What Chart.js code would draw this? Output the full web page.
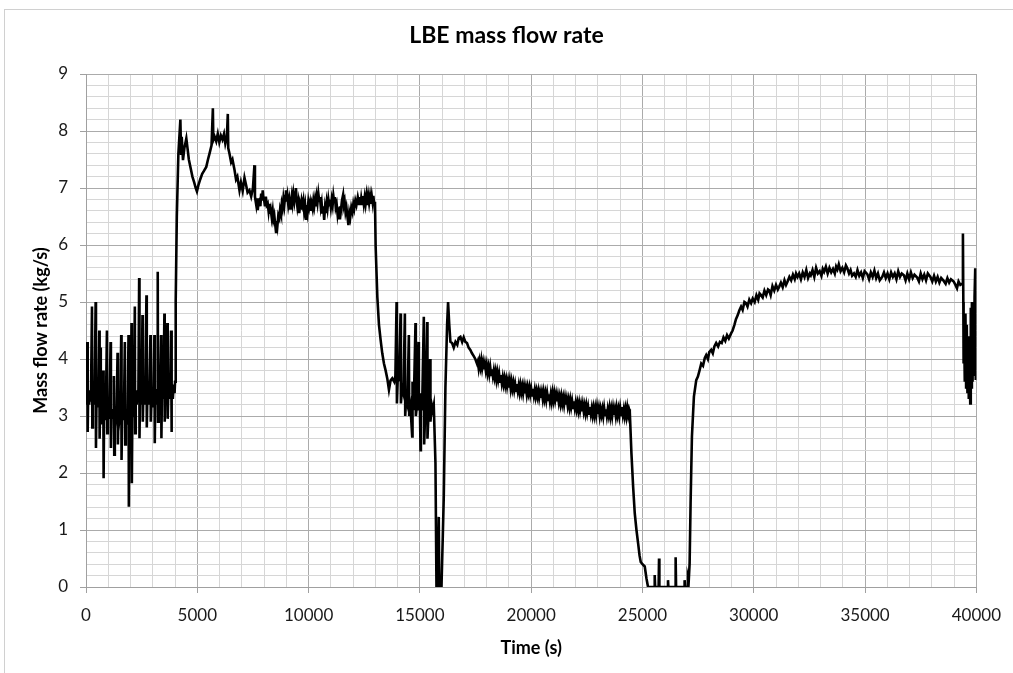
<!DOCTYPE html>
<html>
<head>
<meta charset="utf-8">
<script src="https://cdn.jsdelivr.net/npm/chart.js@4/dist/chart.umd.min.js"></script>
<style>
  html, body { margin: 0; padding: 0; background: #ffffff; }
  #wrap { position: relative; width: 1013px; height: 673px; overflow: hidden; background: #fff; }
  #frame { position: absolute; left: 4px; top: 9px; width: 1020px; height: 700px;
           border-left: 1px solid #d0d0d0; border-top: 1px solid #d0d0d0; pointer-events: none; }
  canvas { position: absolute; left: 0; top: 0; }
</style>
</head>
<body>
<div id="wrap">
  <canvas id="c" width="1013" height="673"></canvas>
  <div id="frame"></div>
</div>
<script>
// ---- Data: [time (s), LBE mass flow rate (kg/s)] ----
const startupOscillation = [
[0,3.4],[30,3.2],[60,4.3],[75,2.72],[100,3.45],[140,3.2],[180,3.45],[220,3.25],[269,4.92],[284,2.8],
[310,3.45],[350,3.2],[390,3.4],[433,5.0],[448,2.44],[475,3.4],[515,3.15],[555,3.4],[597,4.5],[612,2.6],
[635,3.3],[657,4.2],[672,2.85],[700,3.2],[740,2.95],[776,3.8],[791,1.91],[815,3.15],[855,2.95],[895,3.15],
[940,4.5],[955,2.7],[980,3.1],[1020,2.95],[1060,3.15],[1104,4.3],[1119,2.44],[1145,3.1],[1185,2.95],[1220,3.1],
[1254,3.7],[1269,2.32],[1295,3.1],[1335,2.95],[1375,3.1],[1418,4.11],[1433,2.5],[1460,3.1],[1500,2.95],[1540,3.1],
[1582,4.42],[1597,2.23],[1625,3.1],[1665,2.95],[1705,3.1],[1746,4.3],[1761,2.5],[1790,3.05],[1830,2.85],[1870,3.0],
[1910,4.42],[1925,1.41],[1950,3.0],[1985,2.8],[2015,3.0],[2045,4.63],[2060,1.82],[2085,3.2],[2120,3.0],[2155,3.3],
[2194,4.92],[2209,2.7],[2235,3.45],[2275,3.2],[2315,3.45],[2350,3.25],[2388,5.42],[2403,2.61],[2430,3.45],[2465,3.2],
[2500,3.4],[2537,4.77],[2552,2.9],[2580,3.45],[2620,3.2],[2660,3.4],[2716,5.12],[2731,2.8],[2760,3.4],[2800,3.2],
[2840,3.45],[2895,4.42],[2910,2.9],[2940,3.3],[2980,3.15],[3020,3.35],[3074,4.42],[3089,2.52],[3115,3.4],[3150,3.2],
[3190,3.45],[3223,5.53],[3238,2.9],[3265,3.55],[3300,3.3],[3335,3.55],[3373,4.42],[3388,2.61],[3415,3.5],[3450,3.3],
[3485,3.55],[3522,4.8],[3537,2.9],[3565,3.5],[3600,3.3],[3630,3.55],[3656,4.63],[3671,2.95],[3700,3.5],[3740,3.3],
[3780,3.55],[3820,4.5],[3835,2.72],[3860,3.5],[3900,3.3],[3940,3.55],[3980,3.4],[4000,3.6]
];
const highFlowPhase = [
[4030,5.0],[4080,6.5],[4150,7.6],[4210,8.0],[4240,8.2],[4270,7.6],[4300,7.9],[4357,7.49],[4420,7.7],[4507,7.87],
[4560,7.7],[4620,7.5],[4700,7.35],[4780,7.2],[4860,7.1],[4930,7.0],[4984,6.94],[5050,7.05],[5130,7.15],[5220,7.25],
[5300,7.3],[5403,7.37],[5480,7.5],[5560,7.62],[5640,7.75],[5700,8.4],[5720,7.84],[5780,7.9],[5850,7.82],[5920,7.95],
[5990,7.8],[6060,7.92],[6130,7.85],[6200,7.95],[6260,7.78],[6330,7.9],[6371,8.3],[6390,7.7],[6447,7.6],[6520,7.45],
[6580,7.5],[6671,7.32],[6740,7.15],[6800,7.2],[6895,6.96],[6960,7.1],[7040,6.95],[7120,7.18],[7194,7.05],[7260,6.92],
[7343,6.96],[7420,6.85],[7500,7.0],[7567,7.4],[7590,6.85]
];
const highFlowPlateau = [
[7650,6.7],[7685,6.82],[7716,6.61],[7760,6.78],[7800,6.8],[7835,6.68],[7870,6.9],[7905,6.78],[7940,6.96],[7970,6.82],
[8000,6.8],[8040,6.68],[8080,6.85],[8120,6.7],[8163,6.73],[8200,6.6],[8230,6.72],[8265,6.55],[8300,6.62],[8345,6.48],
[8387,6.6],[8420,6.45],[8460,6.52],[8500,6.36],[8536,6.23],[8570,6.42],[8600,6.34],[8640,6.52],[8685,6.47],[8720,6.62],
[8760,6.55],[8795,6.72],[8830,6.65],[8870,6.82],[8909,6.7],[8945,6.86],[8984,6.96],[9015,6.76],[9050,6.86],[9090,6.7],
[9130,6.8],[9170,6.64],[9208,6.74],[9245,6.86],[9280,6.74],[9320,6.9],[9360,6.78],[9395,6.92],[9432,7.0],[9465,6.78],
[9500,6.66],[9540,6.76],[9581,6.56],[9615,6.7],[9650,6.62],[9690,6.78],[9730,6.7],[9765,6.78],[9800,6.6],[9840,6.7],
[9880,6.44],[9915,6.68],[9950,6.58],[9990,6.76],[10029,6.66],[10065,6.74],[10100,6.6],[10140,6.72],[10180,6.64],[10215,6.78],
[10253,6.68],[10290,6.8],[10330,6.68],[10365,6.84],[10400,6.74],[10440,6.9],[10476,6.78],[10510,6.84],[10550,6.66],[10585,6.74],
[10620,6.55],[10660,6.68],[10700,6.44],[10740,6.66],[10780,6.56],[10815,6.74],[10850,6.64],[10890,6.8],[10924,6.7],[10960,6.8],
[11000,6.66],[11040,6.8],[11080,6.7],[11115,6.86],[11148,6.76],[11185,6.84],[11220,6.66],[11260,6.72],[11300,6.55],[11335,6.66],
[11372,6.47],[11410,6.68],[11450,6.6],[11500,6.78],[11551,6.88],[11585,6.7],[11620,6.76],[11660,6.58],[11700,6.66],[11745,6.5],
[11790,6.35],[11830,6.56],[11870,6.48],[11920,6.66],[11969,6.58],[12010,6.72],[12050,6.64],[12100,6.78],[12150,6.7],[12210,6.84],
[12267,6.72],[12300,6.84],[12330,6.7],[12365,6.82],[12400,6.72],[12440,6.86],[12480,6.72],[12520,6.84],[12560,6.72],[12600,6.86],
[12640,6.7],[12680,6.86],[12720,6.74],[12760,6.86],[12800,6.72],[12840,6.86],[12880,6.74],[12910,6.86],[12940,6.74],[12983,6.76]
];
const firstDropPhase = [
[13013,5.97],[13088,5.09],[13162,4.6],[13237,4.33],[13310,4.1],[13386,3.92],[13460,3.8],[13535,3.66],[13610,3.46],[13680,3.62],
[13760,3.66],[13850,3.6],[13900,3.7],[13953,5.0],[13968,3.22],[14000,3.6],[14060,3.65],[14133,4.8],[14148,3.22],[14200,3.5],
[14260,3.4],[14326,4.8],[14341,3.0],[14380,3.3],[14440,3.2],[14505,4.42],[14520,3.0],[14580,3.15],[14654,2.64],[14670,3.6],
[14720,3.1],[14803,4.63],[14818,3.0],[14870,3.2],[14940,4.3],[14955,3.1],[15000,3.2],[15029,2.4],[15045,3.4],[15100,3.1],
[15177,4.74],[15192,2.5],[15250,3.2],[15326,4.65],[15341,2.6],[15400,3.15],[15460,4.0],[15475,2.9],[15530,3.2],[15580,3.1],
[15624,3.19],[15700,2.17],[15745,0],[15800,0],[15848,1.23],[15870,0],[15970,0],[16030,0.9],[16073,1.58],[16148,3.51],
[16223,4.6],[16267,5.0],[16320,4.6],[16372,4.3],[16447,4.28],[16521,4.2],[16600,4.3],[16680,4.25],[16745,4.37],[16820,4.39],
[16900,4.3],[16969,4.38],[17043,4.3],[17118,4.28],[17190,4.2],[17267,4.16],[17340,4.1],[17420,4.05],[17490,4.0],[17565,3.92]
];
const slowDecayPhase = [
[17600,3.96],[17640,3.84],[17680,3.96],[17720,3.86],[17760,3.98],[17800,3.84],[17840,3.94],[17880,3.82],[17920,3.92],[17960,3.8],
[18000,3.9],[18040,3.76],[18080,3.86],[18120,3.74],[18160,3.86],[18200,3.72],[18240,3.82],[18280,3.7],[18320,3.8],[18360,3.68],
[18400,3.78],[18440,3.64],[18480,3.76],[18520,3.64],[18560,3.74],[18600,3.6],[18640,3.72],[18680,3.58],[18720,3.68],[18760,3.56],
[18800,3.66],[18840,3.54],[18880,3.64],[18920,3.52],[18960,3.62],[19000,3.5],[19040,3.62],[19080,3.48],[19120,3.6],[19160,3.48],
[19200,3.58],[19240,3.46],[19280,3.56],[19320,3.44],[19360,3.56],[19400,3.44],[19440,3.54],[19480,3.42],[19520,3.54],[19560,3.42],
[19600,3.52],[19640,3.4],[19680,3.52],[19720,3.4],[19760,3.5],[19800,3.38],[19840,3.5],[19880,3.4],[19920,3.5],[19960,3.38],
[20000,3.48],[20040,3.36],[20080,3.48],[20120,3.36],[20160,3.46],[20200,3.34],[20240,3.44],[20280,3.34],[20320,3.44],[20360,3.32],
[20400,3.42],[20440,3.32],[20480,3.42],[20520,3.3],[20560,3.42],[20600,3.3],[20640,3.4],[20680,3.28],[20720,3.4],[20760,3.28],
[20800,3.38],[20840,3.26],[20880,3.38],[20920,3.26],[20960,3.4],[21000,3.28],[21040,3.4],[21080,3.28],[21120,3.38],[21160,3.26],
[21200,3.36],[21240,3.24],[21280,3.34],[21320,3.22],[21360,3.34],[21400,3.22],[21440,3.32],[21480,3.2],[21520,3.32],[21560,3.2],
[21600,3.3],[21640,3.18],[21680,3.28],[21720,3.16],[21760,3.28],[21800,3.16],[21840,3.26],[21880,3.14],[21920,3.26],[21960,3.14],
[22000,3.24],[22040,3.12],[22080,3.22],[22120,3.1],[22160,3.22],[22200,3.1],[22240,3.2],[22280,3.08],[22320,3.2],[22360,3.08],
[22400,3.18],[22440,3.06],[22480,3.18],[22520,3.06],[22560,3.16],[22600,3.04],[22640,3.16],[22680,3.04],[22720,3.14],[22760,3.02],
[22800,3.14],[22840,3.02],[22880,3.14],[22920,3.02],[22960,3.16],[23000,3.04],[23040,3.14],[23080,3.0],[23120,3.12],[23160,3.02],
[23200,3.12],[23240,3.0],[23280,3.14],[23320,3.02],[23360,3.12],[23400,3.0],[23440,3.12],[23480,3.02],[23520,3.14],[23560,3.0],
[23600,3.12],[23640,3.0],[23680,3.14],[23720,3.02],[23760,3.12],[23800,3.0],[23840,3.14],[23880,3.02],[23920,3.12],[23960,3.0],
[24000,3.14],[24040,3.02],[24080,3.16],[24120,3.02],[24160,3.12],[24200,3.0],[24240,3.12],[24280,3.0],[24320,3.14],[24360,3.02],
[24400,3.12],[24430,3.08]
];
const stoppagePhase = [
[24505,2.34],[24580,1.76],[24654,1.29],[24730,1.0],[24803,0.77],[24870,0.55],[24922,0.44],[25000,0.4],[25102,0.36],[25180,0.15],
[25250,0],[25530,0],[25550,0.21],[25570,0],[25725,0],[25744,0.5],[25760,0],[26130,0],[26147,0.12],[26165,0],
[26470,0],[26490,0.52],[26510,0],[26870,0],[26893,0.12],[26915,0],[27020,0],[27043,0.18],[27080,0.12],[27118,0.41]
];
const recoveryPhase = [
[27162,1.47],[27222,2.64],[27311,3.34],[27416,3.63],[27490,3.69],[27565,3.8],[27640,3.92],[27720,3.88],[27800,4.02],[27863,4.07],
[27940,4.0],[28000,4.12],[28087,4.16],[28160,4.1],[28230,4.22],[28311,4.28],[28400,4.22],[28480,4.3],[28560,4.28],[28640,4.38],
[28720,4.32],[28800,4.42],[28880,4.36],[28982,4.45],[29050,4.5],[29131,4.6],[29200,4.7],[29281,4.77],[29350,4.85],[29430,4.92],
[29500,4.86],[29580,5.0],[29653,4.98],[29720,4.92],[29800,5.04],[29880,4.98],[29952,5.06],[30040,5.0],[30120,5.12],[30200,5.04],
[30260,5.15],[30325,5.12],[30400,5.08],[30480,5.2],[30560,5.12],[30640,5.22],[30698,5.2],[30760,5.12],[30840,5.28],[30920,5.2],
[31000,5.3],[31080,5.22],[31145,5.27],[31220,5.34],[31300,5.26],[31380,5.38],[31450,5.3],[31519,5.36],[31600,5.44],[31680,5.38],
[31760,5.48],[31840,5.4],[31900,5.5],[31966,5.44],[32040,5.5],[32120,5.4],[32200,5.52],[32280,5.44],[32360,5.56],[32440,5.42],
[32520,5.5],[32563,5.47],[32640,5.56],[32720,5.44],[32800,5.6],[32880,5.5],[32960,5.54],[33040,5.46],[33100,5.58],[33160,5.53],
[33240,5.62],[33320,5.5],[33400,5.6],[33480,5.52],[33560,5.58],[33640,5.5],[33700,5.62],[33757,5.57],[33820,5.66],[33900,5.54],
[33980,5.6],[34060,5.52],[34140,5.64],[34204,5.59],[34280,5.5],[34350,5.56],[34420,5.46],[34503,5.5],[34580,5.44],[34660,5.56],
[34740,5.46],[34820,5.52],[34900,5.42],[34980,5.54],[35100,5.49],[35180,5.4],[35260,5.52],[35340,5.44],[35420,5.55],[35500,5.42],
[35580,5.5],[35660,5.38],[35771,5.44],[35850,5.52],[35930,5.42],[36010,5.5],[36090,5.4],[36170,5.52],[36250,5.44],[36330,5.5],
[36410,5.4],[36490,5.54],[36570,5.44],[36650,5.5],[36743,5.47],[36820,5.38],[36900,5.5],[36980,5.4],[37060,5.52],[37140,5.42],
[37220,5.48],[37340,5.43],[37420,5.36],[37500,5.5],[37580,5.4],[37660,5.48],[37740,5.38],[37820,5.5],[37936,5.44],[38020,5.36],
[38100,5.46],[38180,5.36],[38260,5.44],[38340,5.34],[38420,5.42],[38534,5.37],[38620,5.32],[38700,5.42],[38780,5.34],[38860,5.4],
[38981,5.36],[39060,5.3],[39130,5.24],[39200,5.36],[39280,5.3],[39360,5.32]
];
const finalTransient = [
[39397,6.2],[39415,5.0],[39427,3.92],[39450,4.6],[39480,3.6],[39510,4.8],[39540,3.5],[39570,4.6],[39600,3.4],[39630,4.4],
[39660,3.3],[39690,4.2],[39725,3.22],[39750,4.9],[39780,3.5],[39800,5.0],[39830,3.6],[39860,4.8],[39890,3.7],[39920,5.1],
[39950,5.59],[39965,3.63],[39980,4.9],[40000,3.7]
];
const xMajorTicks = [0, 5000, 10000, 15000, 20000, 25000, 30000, 35000, 40000];
const yMajorTicks = [0, 1, 2, 3, 4, 5, 6, 7, 8, 9];

const allSegments = [startupOscillation, highFlowPhase, highFlowPlateau, firstDropPhase, slowDecayPhase,
                     stoppagePhase, recoveryPhase, finalTransient];
const points = [];
allSegments.forEach(seg => seg.forEach(p => points.push({ x: p[0], y: p[1] })));

const isXMajor = v => xMajorTicks.some(m => Math.abs(m - v) < 1e-6);
const isYMajor = v => yMajorTicks.some(m => Math.abs(m - v) < 1e-6);

const FONT = "Lato, 'Open Sans', 'DejaVu Sans', sans-serif";

new Chart(document.getElementById('c'), {
  type: 'line',
  data: {
    datasets: [{
      label: 'LBE mass flow rate',
      data: points,
      borderColor: '#000000',
      borderWidth: 2.6,
      borderJoinStyle: 'miter',
      pointRadius: 0,
      tension: 0,
      fill: false
    }]
  },
  options: {
    responsive: false,
    animation: false,
    parsing: false,
    normalized: true,
    layout: { padding: 0 },
    plugins: {
      legend: { display: false },
      tooltip: { enabled: false },
      title: {
        display: true,
        text: 'LBE mass flow rate',
        color: '#000000',
        font: { family: FONT, size: 23, weight: 'bold', lineHeight: 1.2 },
        padding: { top: 22, bottom: 24.4 }
      }
    },
    scales: {
      x: {
        type: 'linear',
        min: 0,
        max: 40000,
        afterFit: s => { s.height = 86; },
        ticks: {
          stepSize: 1000,
          maxTicksLimit: 100,
          autoSkip: false,
          maxRotation: 0,
          minRotation: 0,
          padding: 12,
          color: '#1a1a1a',
          font: { family: FONT, size: 17 },
          callback: v => isXMajor(v) ? String(v) : ''
        },
        grid: {
          color: ctx => isXMajor(ctx.tick.value) ? '#ababab' : '#d6d6d6',
          lineWidth: 1,
          tickLength: 6,
          tickColor: ctx => isXMajor(ctx.tick.value) ? '#a0a0a0' : 'rgba(0,0,0,0)'
        },
        border: { color: '#a0a0a0', width: 1 },
        title: {
          display: true,
          text: 'Time (s)',
          color: '#000000',
          font: { family: FONT, size: 18, weight: 'bold', lineHeight: 1.2 },
          padding: { top: 0, bottom: 14 }
        }
      },
      y: {
        type: 'linear',
        min: 0,
        max: 9,
        afterFit: s => { s.width = 86; },
        ticks: {
          stepSize: 0.2,
          maxTicksLimit: 100,
          autoSkip: false,
          padding: 12,
          color: '#1a1a1a',
          font: { family: FONT, size: 17 },
          callback: v => isYMajor(v) ? String(Math.round(v)) : ''
        },
        grid: {
          color: ctx => isYMajor(ctx.tick.value) ? '#ababab' : '#d6d6d6',
          lineWidth: 1,
          tickLength: 6,
          tickColor: ctx => isYMajor(ctx.tick.value) ? '#a0a0a0' : 'rgba(0,0,0,0)'
        },
        border: { color: '#a0a0a0', width: 1 },
        title: {
          display: true,
          text: 'Mass flow rate (kg/s)',
          color: '#000000',
          font: { family: FONT, size: 18, weight: 'bold', lineHeight: 1.2 },
          padding: { top: 30, bottom: 0 }
        }
      },
      rightMargin: {
        type: 'linear',
        position: 'right',
        display: true,
        min: 0,
        max: 9,
        afterFit: s => { s.width = 34; },
        grid: { display: false, drawTicks: false },
        border: { display: false },
        ticks: { display: false }
      }
    }
  }
});
</script>
</body>
</html>
